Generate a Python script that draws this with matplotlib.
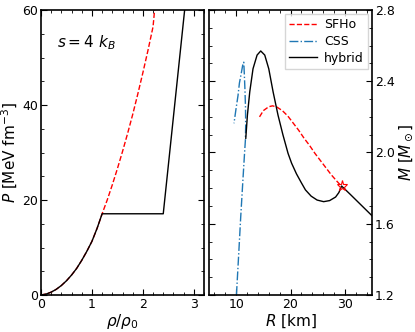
import matplotlib.pyplot as plt
from matplotlib.ticker import MultipleLocator

# left panel: EoS, P vs rho/rho0
rho_sfho = [0.0, 0.1, 0.2, 0.3, 0.4, 0.5, 0.6, 0.7, 0.8, 0.9, 1.0, 1.1, 1.2,
            1.3, 1.4, 1.5, 1.6, 1.7, 1.8, 1.9, 2.0, 2.1, 2.2, 2.23]
p_sfho = [0.0, 0.2, 0.6, 1.2, 2.0, 3.0, 4.2, 5.6, 7.3, 9.2, 11.3, 14.0, 17.1,
          20.0, 23.2, 26.6, 30.2, 34.0, 38.0, 42.3, 46.8, 51.5, 56.5, 60.0]

rho_hyb = [0.0, 0.1, 0.2, 0.3, 0.4, 0.5, 0.6, 0.7, 0.8, 0.9, 1.0, 1.1, 1.2,
           2.4, 2.82]
p_hyb = [0.0, 0.2, 0.6, 1.2, 2.0, 3.0, 4.2, 5.6, 7.3, 9.2, 11.3, 14.0, 17.1,
         17.1, 60.0]

# right panel: M-R
r_sfho = [14.3, 15.0, 16.0, 16.7, 17.5, 18.5, 19.5, 20.5, 21.5, 22.5, 23.5,
          24.5, 25.5, 26.5, 27.5, 28.5, 29.4]
m_sfho = [2.20, 2.235, 2.257, 2.262, 2.255, 2.235, 2.205, 2.165, 2.125, 2.08,
          2.04, 1.995, 1.955, 1.915, 1.875, 1.84, 1.81]

r_css = [10.05, 10.45, 10.84, 11.25, 11.55, 11.7, 11.75, 11.72, 11.62, 11.5,
         11.4, 11.2, 10.97, 10.6, 10.34, 9.95, 9.6]
m_css = [1.2, 1.42, 1.64, 1.85, 2.0, 2.07, 2.15, 2.25, 2.35, 2.44,
         2.507, 2.49, 2.45, 2.39, 2.32, 2.24, 2.164]

r_hyb = [11.77, 12.07, 12.5, 13.1, 13.85, 14.52, 15.26, 16.0, 16.8, 17.7,
         18.6, 19.55, 20.2, 21.1, 22.0, 22.75, 23.8, 24.9, 26.1, 27.2, 28.3,
         28.9, 29.4, 31.0, 33.0, 35.0]
m_hyb = [2.08, 2.21, 2.34, 2.47, 2.547, 2.57, 2.547, 2.47, 2.34, 2.21,
         2.10, 1.995, 1.94, 1.88, 1.83, 1.79, 1.755, 1.733, 1.724, 1.73, 1.75,
         1.775, 1.812, 1.765, 1.705, 1.645]

star_r = [29.4]
star_m = [1.812]

fig = plt.figure(figsize=(4.15, 3.32), dpi=100)
ax1 = fig.add_axes([41 / 415, 37 / 332, 163 / 415, 285 / 332])
ax2 = fig.add_axes([209 / 415, 37 / 332, 163 / 415, 285 / 332])

ax1.plot(rho_sfho, p_sfho, 'r--', lw=1.0)
ax1.plot(rho_hyb, p_hyb, 'k-', lw=1.0)
ax1.set_xlim(0, 3.2)
ax1.set_ylim(0, 60)
ax1.xaxis.set_major_locator(MultipleLocator(1))
ax1.xaxis.set_minor_locator(MultipleLocator(0.2))
ax1.yaxis.set_major_locator(MultipleLocator(20))
ax1.yaxis.set_minor_locator(MultipleLocator(5))
ax1.set_xlabel(r'$\rho/\rho_0$', fontsize=11, labelpad=1)
ax1.set_ylabel(r'$P$ [MeV fm$^{-3}$]', fontsize=11, labelpad=2)
ax1.text(0.1, 0.87, r'$s=4\ k_B$', transform=ax1.transAxes, fontsize=11)

ax2.plot(r_sfho, m_sfho, 'r--', lw=1.0, label='SFHo')
ax2.plot(r_css, m_css, '-.', color='tab:blue', lw=1.0, label='CSS')
ax2.plot(r_hyb, m_hyb, 'k-', lw=1.0, label='hybrid')
ax2.plot(star_r, star_m, '*', ms=8, mfc='none', mec='r', mew=0.8)
ax2.set_xlim(5, 35)
ax2.set_ylim(1.2, 2.8)
ax2.xaxis.set_major_locator(MultipleLocator(10))
ax2.xaxis.set_minor_locator(MultipleLocator(2))
ax2.yaxis.set_major_locator(MultipleLocator(0.4))
ax2.yaxis.set_minor_locator(MultipleLocator(0.1))
ax2.yaxis.tick_right()
ax2.yaxis.set_label_position('right')
ax2.set_xlabel(r'$R$ [km]', fontsize=11, labelpad=1)
ax2.set_ylabel(r'$M$ [$M_\odot$]', fontsize=11, labelpad=2)
ax2.legend(loc='upper right', fontsize=9, handlelength=2.2,
           labelspacing=0.3, handletextpad=0.6, borderpad=0.35,
           borderaxespad=0.3, fancybox=False)

for ax in (ax1, ax2):
    ax.tick_params(which='both', direction='in', top=True, bottom=True,
                   left=True, right=True, labelsize=9, pad=2)
    ax.tick_params(which='major', length=4)
    ax.tick_params(which='minor', length=2)
    for s in ax.spines.values():
        s.set_linewidth(1.2)
ax2.tick_params(labelleft=False, labelright=True)

fig.savefig('out.png', dpi=100)
